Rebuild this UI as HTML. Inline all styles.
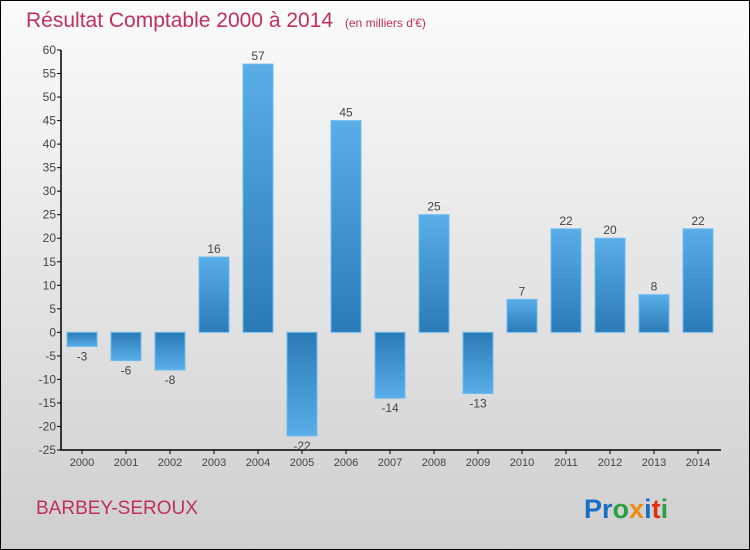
<!DOCTYPE html>
<html><head><meta charset="utf-8"><style>
html,body{margin:0;padding:0;width:750px;height:550px;overflow:hidden}
svg{display:block;font-family:"Liberation Sans",sans-serif}
</style></head><body>
<svg id="chart" width="750" height="550">
<defs>
<linearGradient id="bg" x1="0" y1="0" x2="0" y2="1"><stop offset="0" stop-color="#fbfbfb"/><stop offset="1" stop-color="#cfcfcf"/></linearGradient>
<linearGradient id="pos" x1="0" y1="0" x2="0" y2="1"><stop offset="0" stop-color="#5aaee8"/><stop offset="1" stop-color="#2a7ab8"/></linearGradient>
<linearGradient id="neg" x1="0" y1="0" x2="0" y2="1"><stop offset="0" stop-color="#2a7ab8"/><stop offset="1" stop-color="#5aaee8"/></linearGradient>
</defs>
<rect x="0.5" y="0.5" width="749" height="549" fill="url(#bg)" stroke="#000"/>
<text x="26" y="27" font-size="21" fill="#c0305e" font-weight="300">Résultat Comptable 2000 à 2014 <tspan font-size="12" dx="6">(en milliers d'€)</tspan></text>
<text x="36" y="514" font-size="19" fill="#c0305e">BARBEY-SEROUX</text>
<text x="584" y="518" font-size="27" font-weight="bold"><tspan fill="#1a6fc4">Pr</tspan><tspan fill="#2aa040">o</tspan><tspan fill="#f08a10">x</tspan><tspan fill="#1a6fc4">i</tspan><tspan fill="#e03010">t</tspan><tspan fill="#2aa040">i</tspan></text>
<g id="plot"></g>
</svg>
<script>
const categories=["2000","2001","2002","2003","2004","2005","2006","2007","2008","2009","2010","2011","2012","2013","2014"];
const values=[-3,-6,-8,16,57,-22,45,-14,25,-13,7,22,20,8,22];
const yTicks=[60,55,50,45,40,35,30,25,20,15,10,5,0,-5,-10,-15,-20,-25];
{
const ns="http://www.w3.org/2000/svg";
const g=document.getElementById('plot');
const yMin=-25,yMax=60,plotTop=50,plotBottom=450,plotLeft=61,step=44;
function yS(v){return plotBottom-(v-yMin)/(yMax-yMin)*(plotBottom-plotTop);}
function xS(i){return plotLeft+21+i*step;}
function mk(t,a){const e=document.createElementNS(ns,t);for(const k in a)e.setAttribute(k,a[k]);g.appendChild(e);return e;}
const ax=mk('path',{d:`M${plotLeft},${plotTop} V${plotBottom} H${plotLeft+15*step}`,stroke:'#000',fill:'none','stroke-width':1.5});


yTicks.forEach(v=>{
  const tk=mk('line',{x1:plotLeft-4,x2:plotLeft,y1:yS(v),y2:yS(v),stroke:'#000'});
  
  
  const t=mk('text',{x:plotLeft-5,y:yS(v)+4,'text-anchor':'end','font-size':12,fill:'#444'});
  t.textContent=v<0?'-'+Math.abs(v):v;
  
  
});
categories.forEach((c,i)=>{
  const cx=xS(i),v=values[i];
  const tk=mk('line',{x1:cx,x2:cx,y1:plotBottom,y2:plotBottom+4,stroke:'#000'});
  
  
  const t=mk('text',{x:cx,y:plotBottom+16,'text-anchor':'middle','font-size':11,fill:'#444'});
  t.textContent=c;
  
  
  const y0=yS(0),y1=yS(v);
  const b=mk('rect',{x:cx-15,y:Math.min(y0,y1),width:30,height:Math.abs(y1-y0),fill:v>=0?'url(#pos)':'url(#neg)',stroke:'#6cbcf0','stroke-width':1});
  
  
  const l=mk('text',{x:cx,y:v>=0?y1-4:y1+14,'text-anchor':'middle','font-size':12,fill:'#444'});
  l.textContent=v;
  
  
});
}
</script>
</body></html>
